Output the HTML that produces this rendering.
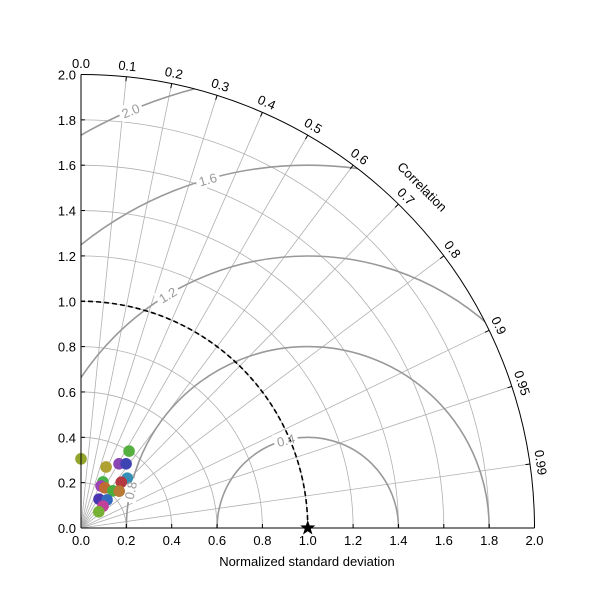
<!DOCTYPE html>
<html><head><meta charset="utf-8"><style>
html,body{margin:0;padding:0;background:#fff;width:600px;height:600px;overflow:hidden;}
svg{display:block;}
svg text{font-family:"Liberation Sans","DejaVu Sans",sans-serif;}
</style></head><body>
<svg id="chart" width="600" height="600" viewBox="0 0 600 600" xmlns="http://www.w3.org/2000/svg">
<defs><clipPath id="sector"><path d="M81,528 L534.5,528 A453.5,453.5 0 0 0 81,74.5 Z"/></clipPath></defs>
<g id="grid"></g>
<g id="rms" clip-path="url(#sector)"></g>
<g id="marks"></g>
<g id="rmslabels"></g>
<g id="axes"></g>
<text x="307" y="566" font-size="13" text-anchor="middle">Normalized standard deviation</text>
</svg>
<script>
const stdTicks=[0,0.2,0.4,0.6,0.8,1.0,1.2,1.4,1.6,1.8,2.0];
const stdTickLabels=["0.0","0.2","0.4","0.6","0.8","1.0","1.2","1.4","1.6","1.8","2.0"];
const corrTicks=[0,0.1,0.2,0.3,0.4,0.5,0.6,0.7,0.8,0.9,0.95,0.99];
const corrTickLabels=["0.0","0.1","0.2","0.3","0.4","0.5","0.6","0.7","0.8","0.9","0.95","0.99"];
const rmsLevels=[0.4,0.8,1.2,1.6,2.0];
const rmsLabelText=["0.4","0.8","1.2","1.6","2.0"];
const pointStd=[0.305,0.40,0.291,0.329,0.346,0.225,0.205,0.206,0.300,0.269,0.216,0.234,0.150,0.169,0.137,0.106];
const pointCorr=[0.0,0.53,0.38,0.51,0.575,0.43,0.43,0.51,0.68,0.66,0.65,0.72,0.53,0.68,0.71,0.74];
const pointColors=["#93a52a","#55b03f","#b0a232","#8a45b5","#3f44b3","#46b34a","#9c43b8","#c06a34","#3590b8","#b53840","#48ad3d","#b87a35","#4a36b0","#3568bf","#c0409a","#76b034"];

const NS="http://www.w3.org/2000/svg";
const ox=81,oy=528,s=226.75;
const X=(x)=>ox+x*s, Y=(y)=>oy-y*s;
function el(tag,attrs,parent){const e=document.createElementNS(NS,tag);for(const k in attrs)e.setAttribute(k,attrs[k]);parent.appendChild(e);return e;}
const grid=document.getElementById('grid'),rms=document.getElementById('rms'),rl=document.getElementById('rmslabels'),marks=document.getElementById('marks'),axes=document.getElementById('axes');
const maxStd=stdTicks[stdTicks.length-1];

stdTicks.forEach(v=>{if(v<=0||v>=maxStd)return;
 const a=el('path',{d:`M${X(v)},${oy} A${v*s},${v*s} 0 0 0 ${ox},${Y(v)}`,fill:'none',stroke:'#b0b0b0','stroke-width':0.8},grid);
 
 
});
corrTicks.forEach(c=>{if(c<=0)return;const t=Math.acos(c);
 const l=el('line',{x1:ox,y1:oy,x2:X(maxStd*Math.cos(t)),y2:Y(maxStd*Math.sin(t)),stroke:'#b0b0b0','stroke-width':0.8},grid);
 
 
});
rmsLevels.forEach((r,i)=>{
 const c=el('path',{d:`M${X(1+r)},${oy} A${r*s},${r*s} 0 0 0 ${X(1-r)},${oy}`,fill:'none',stroke:'#999','stroke-width':1.6},rms);
 
 
});
const rmsLabelAng=[104,168,121,106,113];
rmsLevels.forEach((r,i)=>{const a=rmsLabelAng[i]*Math.PI/180;
 const lx=X(1+r*Math.cos(a)),ly=Y(r*Math.sin(a));
 const rot=-(rmsLabelAng[i]-90);
 const t=el('text',{x:lx,y:ly+5,'font-size':13,fill:'#999','text-anchor':'middle',stroke:'#fff','stroke-width':0,transform:`rotate(${rot} ${lx} ${ly})`},rl);
 t.textContent=rmsLabelText[i];
 
 
});
// gaps in contour lines under labels (drawn into rms group)
rmsLevels.forEach((r,i)=>{const a=rmsLabelAng[i]*Math.PI/180;
 const lx=X(1+r*Math.cos(a)),ly=Y(r*Math.sin(a));
 const rot=-(rmsLabelAng[i]-90);
 const bg=el('rect',{x:lx-12,y:ly-8,width:24,height:16,fill:'#fff',transform:`rotate(${rot} ${lx} ${ly})`},rms);
 
 
});
const ref=el('path',{d:`M${X(1)},${oy} A${s},${s} 0 0 0 ${ox},${Y(1)}`,fill:'none',stroke:'#000','stroke-width':1.6,'stroke-dasharray':'5,3'},marks);


pointStd.forEach((sd,i)=>{const t=Math.acos(pointCorr[i]);
 const p=el('circle',{cx:X(sd*Math.cos(t)),cy:Y(sd*Math.sin(t)),r:5.8,fill:pointColors[i]},marks);
 
 
});
(function(){const cx=X(1),cy=oy;let d='';for(let k=0;k<10;k++){const rr=k%2?3.2:8;const a=-Math.PI/2+k*Math.PI/5;d+=(k?'L':'M')+(cx+rr*Math.cos(a)).toFixed(2)+','+(cy+rr*Math.sin(a)).toFixed(2);}
 const st=el('path',{d:d+'Z',fill:'#000'},axes);
 
 
})();
const xa=el('line',{x1:ox,y1:oy,x2:X(maxStd),y2:oy,stroke:'#000','stroke-width':1},axes);


const ya=el('line',{x1:ox,y1:oy,x2:ox,y2:Y(maxStd),stroke:'#000','stroke-width':1},axes);


const oa=el('path',{d:`M${X(maxStd)},${oy} A${maxStd*s},${maxStd*s} 0 0 0 ${ox},${Y(maxStd)}`,fill:'none',stroke:'#000','stroke-width':1},axes);


stdTicks.forEach((v,i)=>{
 el('line',{x1:X(v),y1:oy,x2:X(v),y2:oy-4,stroke:'#000'},axes);
 el('line',{x1:ox,y1:Y(v),x2:ox+4,y2:Y(v),stroke:'#000'},axes);
 const tx=el('text',{x:X(v),y:oy+17,'font-size':13,'text-anchor':'middle'},axes);
 tx.textContent=stdTickLabels[i];
 
 
 const ty=el('text',{x:ox-5,y:Y(v)+5,'font-size':13,'text-anchor':'end'},axes);
 ty.textContent=stdTickLabels[i];
 
 
});
corrTicks.forEach((c,i)=>{const t=Math.acos(c);
 el('line',{x1:X(maxStd*Math.cos(t)),y1:Y(maxStd*Math.sin(t)),x2:X((maxStd-0.02)*Math.cos(t)),y2:Y((maxStd-0.02)*Math.sin(t)),stroke:'#000'},axes);
 const R=maxStd+0.05;const lx=X(R*Math.cos(t)),ly=Y(R*Math.sin(t));const rot=90-t*180/Math.PI;
 const tl=el('text',{x:lx,y:ly+5,'font-size':13,'text-anchor':'middle',transform:`rotate(${rot} ${lx} ${ly})`},axes);
 tl.textContent=corrTickLabels[i];
 
 
});
(function(){const t=Math.PI/4,R=maxStd+0.13;const lx=X(R*Math.cos(t)),ly=Y(R*Math.sin(t));
 const tl=el('text',{x:lx,y:ly+5,'font-size':13,'text-anchor':'middle',transform:`rotate(45 ${lx} ${ly})`},axes);
 tl.textContent='Correlation';
 
 
})();
</script>
</body></html>
